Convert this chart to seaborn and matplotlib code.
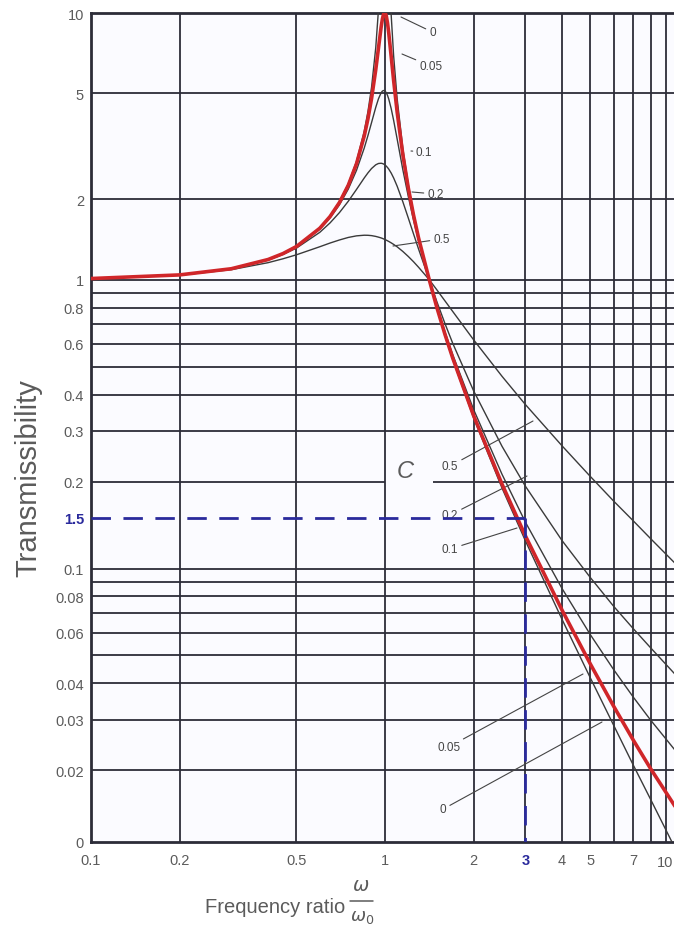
"""Transmissibility vs frequency ratio for several damping ratios."""

import matplotlib
matplotlib.use("Agg")
import matplotlib.pyplot as plt
from matplotlib.lines import Line2D
from matplotlib.ticker import NullLocator
import numpy as np
import pandas as pd
import seaborn as sns

# frequency ratio w/w0 where the curves were read
RATIO = [0.1, 0.2, 0.3, 0.4, 0.45, 0.5, 0.6, 0.65, 0.7, 0.75, 0.8, 0.85, 0.875, 0.9,
         0.93, 0.95, 0.97, 0.98, 0.99, 1.0, 1.01, 1.02, 1.03, 1.05, 1.07, 1.1, 1.15,
         1.2, 1.25, 1.3, 1.414, 1.5, 1.6, 1.7, 2, 2.5, 3, 4, 5, 6, 7, 8, 10]

# transmissibility for each damping ratio
T_00 = [1.010, 1.042, 1.099, 1.190, 1.254, 1.333, 1.563, 1.732, 1.961, 2.286, 2.778,
        3.604, 4.267, 5.263, 7.402, 10.26, 16.92, 25.25, 50.25, np.nan, 49.75, 24.75,
        16.42, 9.756, 6.901, 4.762, 3.101, 2.273, 1.778, 1.449, 1.0, 0.800, 0.641,
        0.529, 0.333, 0.190, 0.125, 0.0667, 0.0417, 0.0286, 0.0208, 0.0159, 0.0101]
T_005 = [1.010, 1.042, 1.099, 1.190, 1.253, 1.332, 1.559, 1.724, 1.947, 2.259, 2.720,
         3.458, 4.012, 4.776, 6.123, 7.379, 8.845, 9.506, 9.951, 10.05, 9.760, 9.162,
         8.401, 6.852, 5.583, 4.244, 2.940, 2.209, 1.749, 1.436, 1.0, 0.803, 0.646,
         0.535, 0.339, 0.196, 0.130, 0.0718, 0.0466, 0.0333, 0.0254, 0.0203, 0.0143]
T_01 = [1.010, 1.042, 1.099, 1.189, 1.251, 1.328, 1.547, 1.704, 1.909, 2.186, 2.571,
        3.117, 3.471, 3.882, 4.425, 4.766, 5.023, 5.096, 5.123, 5.099, 5.026, 4.908,
        4.753, 4.373, 3.957, 3.365, 2.583, 2.052, 1.675, 1.401, 1.0, 0.812, 0.659,
        0.550, 0.356, 0.212, 0.145, 0.0853, 0.0589, 0.0446, 0.0358, 0.0299, 0.0226]
T_02 = [1.010, 1.041, 1.097, 1.184, 1.243, 1.314, 1.505, 1.632, 1.785, 1.968, 2.180,
        2.407, 2.515, 2.611, 2.696, 2.727, 2.733, 2.726, 2.713, 2.693, 2.666, 2.634,
        2.597, 2.509, 2.407, 2.241, 1.959, 1.704, 1.486, 1.305, 1.0, 0.841, 0.704,
        0.602, 0.413, 0.265, 0.193, 0.125, 0.0929, 0.0739, 0.0618, 0.0532, 0.0416]
T_05 = [1.010, 1.040, 1.090, 1.158, 1.198, 1.240, 1.329, 1.372, 1.409, 1.440, 1.460,
        1.468, 1.467, 1.463, 1.453, 1.444, 1.434, 1.428, 1.421, 1.414, 1.407, 1.399,
        1.391, 1.374, 1.356, 1.328, 1.276, 1.222, 1.168, 1.114, 1.0, 0.923, 0.844,
        0.776, 0.620, 0.463, 0.370, 0.266, 0.208, 0.171, 0.146, 0.127, 0.101]

DAMPING = ["0", "0.05", "0.1", "0.2", "0.5"]
CURVES = [T_00, T_005, T_01, T_02, T_05]

X_GRID = [0.2, 0.5, 1, 2, 3, 4, 5, 6, 7, 8, 9]
Y_GRID = [5, 2, 1, 0.9, 0.8, 0.7, 0.6, 0.5, 0.4, 0.3, 0.1, 0.09, 0.08, 0.07, 0.06,
          0.05, 0.04, 0.03, 0.02]
X_TICKS = [0.1, 0.2, 0.5, 1, 2, 3, 4, 5, 7]
X_LABELS = ["0.1", "0.2", "0.5", "1", "2", "3", "4", "5", "7"]
Y_BOTTOM = 0.0113
Y_TICKS = [10, 5, 2, 1, 0.8, 0.6, 0.4, 0.3, 0.2, 0.15, 0.1, 0.08, 0.06, 0.04, 0.03,
           0.02, Y_BOTTOM]
Y_LABELS = ["10", "5", "2", "1", "0.8", "0.6", "0.4", "0.3", "0.2", "1.5", "0.1",
            "0.08", "0.06", "0.04", "0.03", "0.02", "0"]
MARK_X, MARK_Y = 3, 0.15

GRID_C = "#2c2c38"
TEXT_C = "#5b5b5b"
BLUE = "#2a2a9c"

# the printed chart has a slightly shorter decade above 1
K_UPPER = 265 / 287


def fwd(y):
    ly = np.log10(np.clip(y, 1e-9, None))
    return np.where(ly > 0, ly * K_UPPER, ly)


def inv(u):
    return np.where(u > 0, 10 ** (u / K_UPPER), 10.0 ** u)


sns.set_theme(style="white")
plt.rcParams["font.family"] = ["Liberation Sans", "DejaVu Sans"]

df = pd.DataFrame({
    "ratio": RATIO * len(DAMPING),
    "T": [v for c in CURVES for v in c],
    "damping": [d for d in DAMPING for _ in RATIO],
})

W, H = 674, 928
fig = plt.figure(figsize=(W / 100, H / 100), dpi=100)
ax = fig.add_axes([91 / W, 85 / H, 588 / W, 829 / H])
ax.set_facecolor("#fbfbff")

ax.set_xscale("log")
ax.set_yscale("function", functions=(fwd, inv))
ax.set_xlim(0.1, 10)
ax.set_ylim(Y_BOTTOM, 10)

for xv in X_GRID:
    ax.axvline(xv, color=GRID_C, lw=1.3, zorder=1)
for yv in Y_GRID:
    ax.axhline(yv, color=GRID_C, lw=1.3, zorder=1)
# 0.2 line is broken around the "C" mark
ax.hlines(0.2, 0.1, 1.0, color=GRID_C, lw=1.3, zorder=1)
ax.hlines(0.2, 1.46, 10, color=GRID_C, lw=1.3, zorder=1)

for d in DAMPING:
    sub = df[df["damping"] == d].dropna()
    red = d == "0.05"
    sns.lineplot(data=sub, x="ratio", y="T", ax=ax, estimator=None, sort=False,
                 color="#d0262a" if red else "#3a3a3a", lw=2.6 if red else 1.0,
                 zorder=4 if red else 3)

# dashed reading lines at w/w0 = 3
ax.plot([0.1, MARK_X], [MARK_Y, MARK_Y], color=BLUE, lw=2.0, ls=(0, (7, 4.5)), zorder=5)
ax.plot([MARK_X, MARK_X], [MARK_Y, Y_BOTTOM], color=BLUE, lw=2.0, ls=(0, (7, 4.5)),
        zorder=5)

ax.set_xticks(X_TICKS, X_LABELS)
ax.set_yticks(Y_TICKS, Y_LABELS)
ax.xaxis.set_minor_locator(NullLocator())
ax.yaxis.set_minor_locator(NullLocator())
ax.tick_params(axis="both", length=0, labelsize=10.5, labelcolor=TEXT_C)
ax.tick_params(axis="x", pad=8)
ax.tick_params(axis="y", pad=5)
for lab in ax.get_xticklabels() + ax.get_yticklabels():
    if lab.get_text() in ("3", "1.5"):
        lab.set_color(BLUE)
        lab.set_fontweight("bold")
ax.set_xlabel("")
ax.set_ylabel("")

for side in ("left", "bottom", "top", "right"):
    ax.spines[side].set_color(GRID_C)
    ax.spines[side].set_linewidth(2.0)

# damping ratio labels with leader lines (figure pixels, origin bottom-left)
leaders = [
    ("0", (401, 18), (429, 33)),
    ("0.05", (402, 55), (419, 67)),
    ("0.1", (411, 152), (416, 153)),
    ("0.2", (412, 193), (427, 195)),
    ("0.5", (393, 247), (433, 240)),
    ("0.5", (533, 422), (442, 467)),
    ("0.2", (527, 477), (442, 516)),
    ("0.1", (517, 529), (442, 550)),
    ("0.05", (583, 675), (437, 748)),
    ("0", (602, 723), (440, 810)),
]
for txt, (px, py), (tx, ty) in leaders:
    ax.annotate(txt, xy=(px, H - py), xycoords="figure pixels",
                xytext=(tx, H - ty), textcoords="figure pixels",
                ha="left", va="center", fontsize=8.5, color="#444444",
                arrowprops=dict(arrowstyle="-", lw=0.8, color="#444444",
                                shrinkA=0, shrinkB=0))

fig.text(405 / W, 1 - 472 / H, "C", fontsize=17, style="italic", color=TEXT_C,
         ha="center", va="center")

# last x label sits at the cropped right edge
fig.text(665 / W, 1 - 863 / H, "10", fontsize=10.5, color=TEXT_C,
         ha="center", va="center")

fig.text(28 / W, 1 - 478 / H, "Transmissibility", fontsize=21, color=TEXT_C,
         rotation=90, ha="center", va="center")

fig.text(345 / W, 1 - 908 / H, "Frequency ratio", fontsize=14.5, color=TEXT_C,
         ha="right", va="center")
fig.text(361 / W, 1 - 887 / H, r"$\omega$", fontsize=14, color=TEXT_C,
         ha="center", va="center")
fig.text(362 / W, 1 - 918 / H, r"$\omega_0$", fontsize=13, color=TEXT_C,
         ha="center", va="center")
fig.add_artist(Line2D([350 / W, 373 / W], [1 - 902 / H, 1 - 902 / H],
                      color=TEXT_C, lw=1.1, transform=fig.transFigure))

fig.savefig("out.png", dpi=100)
plt.close(fig)
